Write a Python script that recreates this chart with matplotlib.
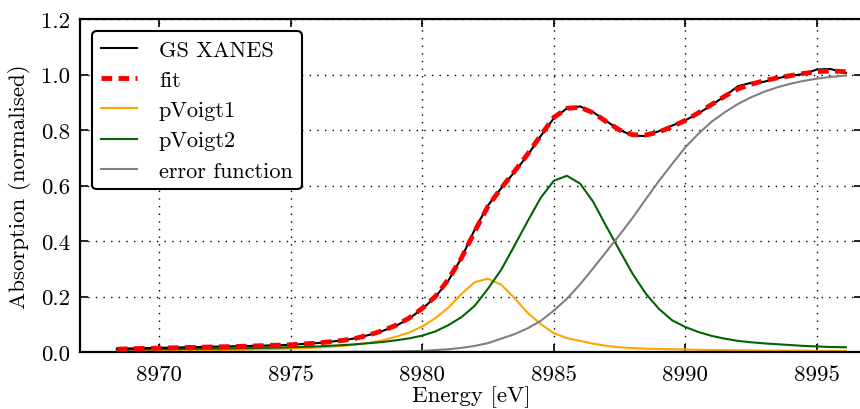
import matplotlib
matplotlib.use("Agg")
import matplotlib.pyplot as plt

plt.rcParams['font.family'] = ['cmr10', 'DejaVu Serif']
plt.rcParams['mathtext.fontset'] = 'cm'
plt.rcParams['axes.formatter.use_mathtext'] = True

energy = [8968.4, 8969, 8970, 8971, 8972, 8973, 8974, 8975, 8976, 8977, 8977.5,
          8978, 8978.5, 8979, 8979.5, 8980, 8980.5, 8981, 8981.5, 8982, 8982.5,
          8983, 8983.5, 8984, 8984.5, 8985, 8985.5, 8986, 8986.5, 8987, 8987.5,
          8988, 8988.5, 8989, 8989.5, 8990, 8990.5, 8991, 8991.5, 8992, 8992.5,
          8993, 8993.5, 8994, 8994.5, 8995, 8995.5, 8996.1]

gs_xanes = [0.012, 0.013, 0.015, 0.017, 0.019, 0.021, 0.023, 0.026, 0.032, 0.042, 0.050,
            0.062, 0.076, 0.094, 0.120, 0.155, 0.198, 0.258, 0.340, 0.442, 0.528,
            0.590, 0.648, 0.708, 0.778, 0.842, 0.878, 0.885, 0.864, 0.832, 0.800,
            0.780, 0.778, 0.796, 0.816, 0.835, 0.860, 0.890, 0.922, 0.958, 0.970,
            0.974, 0.987, 0.995, 1.002, 1.018, 1.020, 1.006]

fit = [0.010, 0.012, 0.014, 0.016, 0.018, 0.020, 0.023, 0.026, 0.032, 0.042, 0.050,
       0.062, 0.077, 0.096, 0.122, 0.157, 0.200, 0.262, 0.340, 0.435, 0.525,
       0.590, 0.650, 0.712, 0.780, 0.845, 0.878, 0.882, 0.862, 0.830, 0.800,
       0.783, 0.782, 0.793, 0.812, 0.835, 0.862, 0.892, 0.922, 0.948, 0.965,
       0.978, 0.988, 0.996, 1.004, 1.010, 1.013, 1.010]

pvoigt1 = [0.004, 0.004, 0.005, 0.006, 0.007, 0.008, 0.010, 0.012, 0.016, 0.022, 0.027,
           0.033, 0.042, 0.055, 0.070, 0.092, 0.122, 0.160, 0.210, 0.252, 0.264,
           0.243, 0.195, 0.142, 0.101, 0.068, 0.050, 0.040, 0.030, 0.022, 0.017,
           0.014, 0.012, 0.011, 0.010, 0.009, 0.008, 0.007, 0.007, 0.006, 0.006,
           0.005, 0.005, 0.005, 0.005, 0.004, 0.004, 0.004]

pvoigt2 = [0.009, 0.009, 0.010, 0.011, 0.012, 0.013, 0.015, 0.017, 0.020, 0.025, 0.028,
           0.032, 0.036, 0.042, 0.049, 0.059, 0.074, 0.097, 0.126, 0.167, 0.228,
           0.296, 0.382, 0.470, 0.555, 0.617, 0.635, 0.607, 0.541, 0.452, 0.366,
           0.281, 0.210, 0.155, 0.114, 0.090, 0.072, 0.058, 0.048, 0.040, 0.035,
           0.031, 0.028, 0.025, 0.022, 0.020, 0.018, 0.017]

error_function = [0.000, 0.000, 0.000, 0.000, 0.000, 0.000, 0.000, 0.000, 0.000, 0.000, 0.001,
                  0.001, 0.001, 0.002, 0.003, 0.004, 0.007, 0.010, 0.015, 0.022, 0.032,
                  0.048, 0.064, 0.085, 0.112, 0.149, 0.192, 0.244, 0.302, 0.362, 0.422,
                  0.484, 0.551, 0.617, 0.678, 0.738, 0.787, 0.830, 0.864, 0.894, 0.918,
                  0.938, 0.954, 0.967, 0.977, 0.985, 0.991, 0.996]

x_ticks = [8970, 8975, 8980, 8985, 8990, 8995]
y_ticks = [0.0, 0.2, 0.4, 0.6, 0.8, 1.0, 1.2]

fig = plt.figure(figsize=(8.6, 4.1), dpi=100)
ax = fig.add_axes([80 / 860, 57 / 410, 782 / 860, 333 / 410])

ax.plot(energy, gs_xanes, color='black', lw=1.5, label='GS XANES', zorder=3)
ax.plot(energy, fit, color='red', lw=3.5, ls=(0, (2.2, 1.3)), label='fit', zorder=4)
ax.plot(energy, pvoigt1, color='orange', lw=1.5, label='pVoigt1', zorder=2)
ax.plot(energy, pvoigt2, color='darkgreen', lw=1.5, label='pVoigt2', zorder=2)
ax.plot(energy, error_function, color='gray', lw=1.5, label='error function', zorder=2)

ax.set_xlim(8967, 8967 + 782 / 26.32)
ax.set_ylim(0, 1.2)
ax.set_xticks(x_ticks)
ax.set_xticklabels([str(t) for t in x_ticks])
ax.set_yticks(y_ticks)
ax.set_yticklabels(['%.1f' % t for t in y_ticks])

ax.grid(True, color='black', ls=(0, (1, 4.5)), lw=1.0)
ax.tick_params(direction='in', length=6, width=1.2, labelsize=16.5, pad=7,
               top=True, right=True)
ax.tick_params(axis='x', pad=9)
for s in ax.spines.values():
    s.set_linewidth(1.6)

ax.set_xlabel('Energy [eV]', fontsize=16.5, labelpad=1)
ax.set_ylabel('Absorption (normalised)', fontsize=16.5, labelpad=7)

leg = ax.legend(loc='upper left', fontsize=16, fancybox=True, framealpha=1,
                edgecolor='black', handlelength=1.6, handletextpad=1.0,
                borderpad=0.4, labelspacing=0.48, borderaxespad=0.55)
leg.get_frame().set_linewidth(1.5)

fig.savefig('out.png', dpi=100)
